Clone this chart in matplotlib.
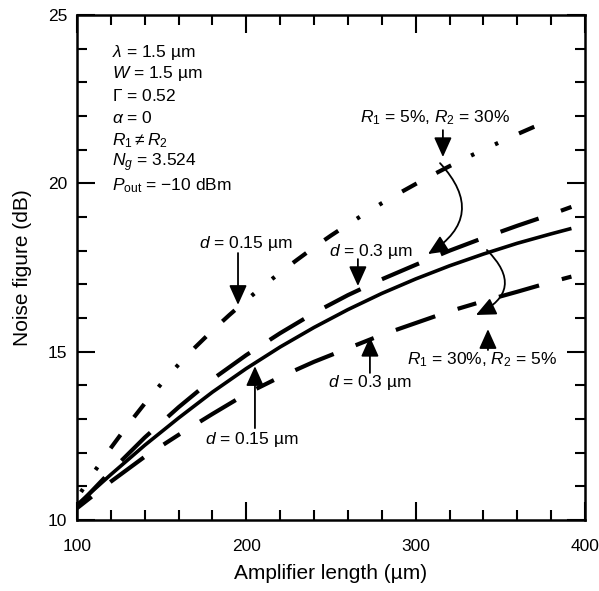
import matplotlib
matplotlib.use("Agg")
import matplotlib.pyplot as plt
from matplotlib.ticker import MultipleLocator

plt.rcParams['font.family'] = ['Liberation Sans', 'DejaVu Sans']
plt.rcParams['mathtext.fontset'] = 'custom'
plt.rcParams['mathtext.rm'] = 'Liberation Sans'
plt.rcParams['mathtext.it'] = 'Liberation Sans:italic'
plt.rcParams['mathtext.bf'] = 'Liberation Sans:bold'
plt.rcParams['lines.scale_dashes'] = False

# ---- data ----
# R1 = 30%, R2 = 5%, d = 0.15 um (solid)
x_solid = [100, 120, 140, 160, 180, 200, 220, 240, 260, 280, 300, 320, 340, 360, 380, 392]
y_solid = [10.45, 11.35, 12.22, 13.03, 13.8, 14.5, 15.14, 15.72, 16.25, 16.73, 17.16, 17.55,
           17.9, 18.22, 18.5, 18.66]

# R1 = 5%, R2 = 30%, d = 0.3 um (long dash, upper)
x_dash_up = [100, 120, 140, 160, 180, 200, 220, 240, 260, 280, 300, 320, 340, 360, 380, 392]
y_dash_up = [10.4, 11.45, 12.45, 13.35, 14.18, 14.9, 15.55, 16.15, 16.68, 17.15, 17.58, 18.0,
             18.38, 18.74, 19.08, 19.3]

# R1 = 5%, R2 = 30%, d = 0.15 um (dash-dot)
x_dashdot = [100, 110, 120, 130, 140, 150, 160, 170, 180, 190, 200, 210, 220, 230, 240, 250,
             260, 270, 280, 290, 300, 310, 320, 330, 340, 350, 360, 370, 382]
y_dashdot = [10.65, 11.42, 12.14, 12.82, 13.46, 14.06, 14.62, 15.14, 15.63, 16.09, 16.53, 16.95,
             17.35, 17.73, 18.1, 18.45, 18.78, 19.1, 19.41, 19.7, 19.98, 20.25, 20.51, 20.76,
             21.0, 21.23, 21.46, 21.68, 21.93]

# R1 = 30%, R2 = 5%, d = 0.3 um (dashed, lower)
x_dash_lo = [100, 120, 140, 160, 180, 200, 220, 240, 260, 280, 300, 320, 340, 360, 380, 392]
y_dash_lo = [10.35, 11.14, 11.88, 12.53, 13.15, 13.75, 14.25, 14.7, 15.1, 15.5, 15.85, 16.2,
             16.5, 16.78, 17.07, 17.23]

x_major = [100, 200, 300, 400]
y_major = [10, 15, 20, 25]

params = [r'$\lambda$ = 1.5 µm', r'$W$ = 1.5 µm', r'$\Gamma$ = 0.52', r'$\alpha$ = 0',
          r'$R_1 \neq R_2$', r'$N_g$ = 3.524', r'$P_{\rm out}$ = −10 dBm']

fig = plt.figure(figsize=(5.99, 5.91), dpi=100)
ax = fig.add_axes([0.1285, 0.1201, 0.8481, 0.8545])

ax.plot(x_solid, y_solid, color='k', lw=2.6, solid_capstyle='butt', solid_joinstyle='round')
ax.plot(x_dash_up, y_dash_up, color='k', lw=3.0, linestyle=(0, (29, 17)), dash_capstyle='butt')
ax.plot(x_dashdot, y_dashdot, color='k', lw=3.0,
        linestyle=(50.7, (12, 16, 12, 16, 2.5, 16.5, 2.5, 16.5)), dash_capstyle='butt')
ax.plot(x_dash_lo, y_dash_lo, color='k', lw=3.0,
        linestyle=(47.5, (30, 17, 14, 17)), dash_capstyle='butt')

ax.set_xlim(100, 400)
ax.set_ylim(10, 25)
ax.set_xticks(x_major)
ax.set_yticks(y_major)
ax.xaxis.set_minor_locator(MultipleLocator(20))
ax.yaxis.set_minor_locator(MultipleLocator(1))
ax.tick_params(which='both', direction='in', top=True, right=True, width=1.5, labelsize=12.5)
ax.tick_params(which='major', length=13)
ax.tick_params(which='minor', length=7)
ax.tick_params(axis='x', which='major', pad=14)
ax.tick_params(axis='y', which='major', pad=7)
for s in ax.spines.values():
    s.set_linewidth(1.8)

ax.set_xlabel('Amplifier length (µm)', fontsize=15, labelpad=7)
ax.set_ylabel('Noise figure (dB)', fontsize=15, labelpad=11)

# parameter block
ys = [23.90, 23.25, 22.59, 21.94, 21.26, 20.60, 19.92]
for t, yy in zip(params, ys):
    ax.text(120.7, yy, t, fontsize=12.5, va='center', ha='left')

arrow_kw = dict(arrowstyle='-|>,head_length=0.6,head_width=0.27', color='k', lw=1.3,
                mutation_scale=20, shrinkA=0, shrinkB=0)
fs = 12.5

# upper d = 0.15
ax.text(199.8, 18.20, r'$d$ = 0.15 µm', fontsize=fs, ha='center', va='center')
ax.annotate('', xy=(195.1, 16.39), xytext=(195.1, 17.93), arrowprops=arrow_kw)
# upper d = 0.3
ax.text(273.6, 17.99, r'$d$ = 0.3 µm', fontsize=fs, ha='center', va='center')
ax.annotate('', xy=(265.9, 16.95), xytext=(265.9, 17.75), arrowprops=arrow_kw)
# R1=5%, R2=30%
ax.text(311.4, 21.94, r'$R_1$ = 5%, $R_2$ = 30%', fontsize=fs, ha='center', va='center')
ax.annotate('', xy=(316.1, 20.78), xytext=(316.1, 21.58), arrowprops=arrow_kw)
loop_kw = dict(arrow_kw)
loop_kw['connectionstyle'] = 'arc3,rad=-0.6'
ax.annotate('', xy=(307.3, 17.90), xytext=(314.4, 20.60), arrowprops=loop_kw)
# R1=30%, R2=5%
ax.text(339.2, 14.75, r'$R_1$ = 30%, $R_2$ = 5%', fontsize=fs, ha='center', va='center')
ax.annotate('', xy=(342.7, 15.67), xytext=(342.7, 15.05), arrowprops=arrow_kw)
loop_kw2 = dict(arrow_kw)
loop_kw2['connectionstyle'] = 'arc3,rad=-0.7'
ax.annotate('', xy=(335.6, 16.09), xytext=(342.1, 18.02), arrowprops=loop_kw2)
# lower d = 0.3
ax.text(273.0, 14.07, r'$d$ = 0.3 µm', fontsize=fs, ha='center', va='center')
ax.annotate('', xy=(273.0, 15.44), xytext=(273.0, 14.37), arrowprops=arrow_kw)
# lower d = 0.15
ax.text(203.3, 12.38, r'$d$ = 0.15 µm', fontsize=fs, ha='center', va='center')
ax.annotate('', xy=(205.1, 14.57), xytext=(205.1, 12.73), arrowprops=arrow_kw)

fig.savefig('out.png', dpi=100)
